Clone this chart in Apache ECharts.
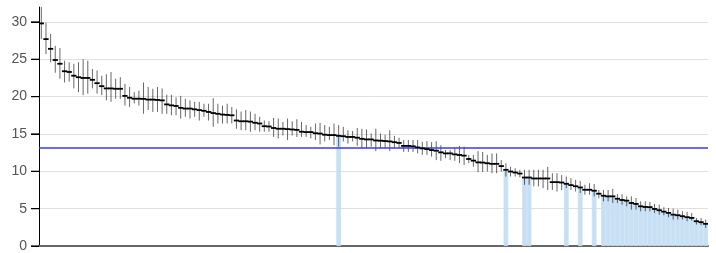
<!DOCTYPE html>
<html>
<head>
<meta charset="utf-8">
<script src="https://cdn.jsdelivr.net/npm/echarts@6/dist/echarts.min.js"></script>
<style>
html,body{margin:0;padding:0;background:#fff;}
#main{width:716px;height:253px;}
</style>
</head>
<body>
<div id="main"></div>
<script>
// point estimates, sorted high to low
var values = [29.8,27.7,26.4,24.9,24.4,23.4,23.3,22.8,22.6,22.5,
	22.5,22.25,21.8,21.4,21.1,21.1,21.05,21.05,20.1,19.85,
	19.72,19.72,19.7,19.6,19.6,19.55,19.5,18.96,18.83,18.75,
	18.5,18.4,18.4,18.3,18.2,18.1,17.95,17.8,17.7,17.6,
	17.55,17.5,16.8,16.7,16.7,16.65,16.5,16.4,16.04,16.0,
	15.8,15.7,15.7,15.65,15.6,15.55,15.3,15.25,15.25,15.1,
	15.05,14.9,14.85,14.85,14.75,14.7,14.6,14.6,14.5,14.35,
	14.27,14.27,14.13,14.1,14.05,14.0,13.9,13.8,13.4,13.4,
	13.35,13.2,13.07,12.98,12.85,12.76,12.54,12.4,12.4,12.27,
	12.18,12.1,11.65,11.43,11.2,11.17,11.08,11.0,11.0,10.7,
	10.2,9.97,9.84,9.7,9.17,9.17,9.04,9.04,9.04,9.04,
	8.55,8.55,8.5,8.33,8.15,8.0,7.84,7.53,7.53,7.4,
	7.0,6.73,6.65,6.65,6.33,6.16,6.07,5.76,5.63,5.32,
	5.23,5.2,4.96,4.79,4.6,4.43,4.2,4.12,3.99,3.86,
	3.76,3.32,3.19,2.97];
// lower ends of the error bars
var lows = [27.7,25.7,24.6,23.2,22.4,21.9,22.0,21.1,20.6,20.2,
	20.4,21.1,20.4,20.2,19.5,19.3,19.7,19.7,18.8,18.6,
	19.1,18.8,17.7,18.2,17.95,17.95,17.7,17.7,17.5,17.5,
	17.06,17.3,17.06,17.3,16.8,17.3,16.8,15.96,16.4,16.4,
	16.4,16.4,15.7,15.5,15.5,15.3,15.5,15.3,15.3,15.3,
	14.6,14.4,14.8,14.2,14.8,14.6,14.6,14.6,14.4,14.2,
	13.6,14.0,14.2,13.5,13.3,14.0,13.7,14.0,13.4,13.07,
	13.07,13.3,12.7,13.07,13.07,12.7,13.07,13.07,12.6,12.6,
	12.6,12.4,12.2,12.2,11.97,11.5,11.4,11.75,11.5,11.4,
	11.1,10.85,11.1,10.6,9.9,9.9,9.97,9.75,9.75,9.97,
	9.3,9.3,9.3,9.2,8.2,8.2,7.98,7.98,7.75,7.5,
	7.5,7.3,7.5,7.75,7.5,7.3,7.1,6.86,6.86,6.65,
	6.4,5.98,5.98,5.76,5.76,5.53,5.32,4.87,4.87,4.65,
	4.65,4.65,4.43,4.2,4.12,3.86,3.54,3.54,3.54,3.32,
	3.4,2.87,2.79,2.43];
// upper ends of the error bars
var highs = [32.4,29.9,28.4,26.8,26.5,24.8,24.6,24.4,24.6,25.0,
	24.8,23.7,23.5,22.8,23.0,23.3,22.4,22.6,21.7,21.3,
	20.6,20.8,21.9,21.3,21.05,21.3,21.1,20.25,20.25,19.9,
	20.1,19.7,19.5,19.3,19.3,19.05,19.05,19.8,19.05,18.8,
	19.05,18.6,18.3,18.0,18.2,18.0,17.7,17.3,16.8,16.7,
	17.15,17.06,16.6,17.06,16.7,16.97,16.6,16.2,15.96,16.4,
	16.5,16.2,15.96,16.4,16.2,15.96,15.5,15.4,15.8,15.7,
	15.6,15.07,15.7,15.07,14.9,15.5,14.75,14.5,14.2,14.2,
	14.2,14.2,13.96,14.04,13.9,14.04,13.5,12.85,12.85,13.07,
	13.4,13.3,12.2,12.2,12.7,12.6,12.2,12.4,12.4,11.5,
	11.08,10.6,10.4,10.2,10.2,10.2,10.2,10.2,10.2,10.6,
	9.75,9.75,9.5,9.3,9.08,8.86,8.7,8.2,8.4,8.3,
	7.5,7.5,7.5,7.66,6.95,6.95,6.65,6.65,6.42,5.98,
	5.98,5.89,5.63,5.53,5.19,5.09,5.0,4.87,4.65,4.56,
	4.43,3.76,3.76,3.54];
// positions whose bar is shaded
var highlighted = [64,100,104,105,113,116,119,121,122,123,124,125,126,127,128,
	129,130,131,132,133,134,135,136,137,138,139,140,141,142,143];
var refValue = 13.2;
var yTicks = [0,5,10,15,20,25,30];

var categories = [];
var barData = [];
var errData = [];
var pointData = [];
for (var i = 0; i < values.length; i++) {
	categories.push(String(i + 1));
	barData.push(highlighted.indexOf(i) >= 0 ? values[i] : '-');
	errData.push([i, lows[i], highs[i]]);
	pointData.push([i, values[i]]);
}
var tickData = yTicks.map(function(v){ return [0, v]; });

var myChart = echarts.init(document.getElementById('main'));
var option = {
	animation: false,
	grid: {left: 39, right: 8, top: 7, bottom: 5},
	xAxis: {
		type: 'category',
		data: categories,
		boundaryGap: true,
		axisLine: {show: true, lineStyle: {color: '#666', width: 2}},
		axisTick: {show: false},
		axisLabel: {show: false},
		splitLine: {show: false}
	},
	yAxis: {
		type: 'value',
		min: 0,
		max: 32,
		interval: 5,
		axisLine: {show: true, lineStyle: {color: '#000', width: 1}},
		axisTick: {show: true, length: 8, customValues: yTicks, lineStyle: {color: '#000', width: 1}},
		axisLabel: {
			showMaxLabel: false,
			margin: 12,
			color: '#555',
			fontSize: 14
		},
		splitLine: {
			show: true,
			lineStyle: {color: ['#e0e0e0','#e0e0e0','#e0e0e0','#e0e0e0','#e0e0e0','#e0e0e0','#e0e0e0','rgba(0,0,0,0)'], width: 1}
		}
	},
	series: [
		{
			name: 'shade',
			type: 'bar',
			barWidth: '100%',
			data: barData,
			itemStyle: {color: '#c8e0f4', borderColor: '#c8e0f4', borderWidth: 0.8},
			z: 2,
			markLine: {
				silent: true,
				symbol: 'none',
				label: {show: false},
				lineStyle: {color: '#3a3af0', width: 1.5, type: 'solid'},
				data: [{yAxis: refValue}]
			}
		},
		{
			name: 'ci',
			type: 'custom',
			clip: true,
			z: 4,
			data: errData,
			renderItem: function(params, api) {
				var x = api.value(0);
				var lo = api.coord([x, api.value(1)]);
				var hi = api.coord([x, api.value(2)]);
				return {
					type: 'line',
					shape: {x1: lo[0], y1: lo[1], x2: hi[0], y2: hi[1]},
					style: {stroke: '#000', lineWidth: 1, opacity: 0.6}
				};
			}
		},
		{
			name: 'est',
			type: 'custom',
			clip: true,
			z: 5,
			data: pointData,
			renderItem: function(params, api) {
				var c = api.coord([api.value(0), api.value(1)]);
				var w = api.size([1, 0])[0];
				return {
					type: 'line',
					shape: {x1: c[0] - w / 2 - 0.3, y1: c[1], x2: c[0] + w / 2 + 0.3, y2: c[1]},
					style: {stroke: '#000', lineWidth: 1.8}
				};
			}
		},
		{
			// y axis tick marks
			name: 'ticks',
			type: 'custom',
			clip: false,
			z: 6,
			data: tickData,
			renderItem: function(params, api) {
				var c = api.coord([api.value(0), api.value(1)]);
				var left = c[0] - api.size([1, 0])[0] / 2;
				return {
					type: 'line',
					shape: {x1: left - 8, y1: c[1], x2: left, y2: c[1]},
					style: {stroke: '#000', lineWidth: 1.2}
				};
			}
		}
	]
};
myChart.setOption(option);
</script>
</body>
</html>
